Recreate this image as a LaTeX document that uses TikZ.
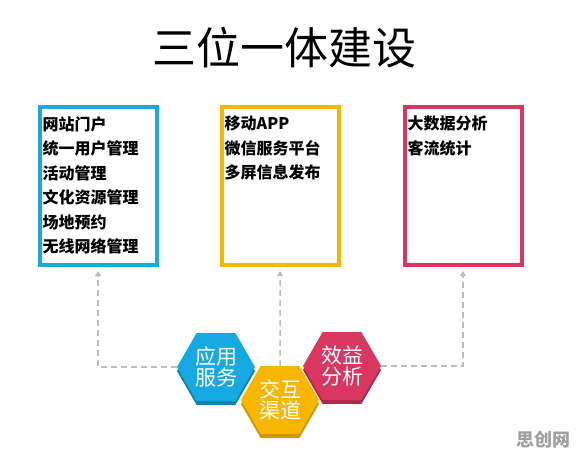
\documentclass[tikz,border=0pt]{standalone}
\usepackage{fontspec}
\setmainfont{Noto Sans CJK SC}
\usepackage{tikz}
\usetikzlibrary{shapes.geometric,arrows.meta}

\definecolor{skyblue}{HTML}{17A9E1}
\definecolor{skyshade}{HTML}{0E84B4}
\definecolor{amber}{HTML}{F8B600}
\definecolor{ambershade}{HTML}{D09700}
\definecolor{rosered}{HTML}{DA3760}
\definecolor{roseshade}{HTML}{AD2A4B}
\definecolor{linkgray}{HTML}{BDBDBD}

\tikzset{
	panel/.style={draw=#1, line width=4pt, minimum width=117pt, minimum height=158pt, inner sep=0pt},
	paneltext/.style={anchor=north west, inner sep=0pt, align=left, font=\fontsize{16}{24.5}\selectfont\bfseries},
	hexa/.style={regular polygon, regular polygon sides=6, minimum size=78pt, inner sep=0pt, fill=#1, text=white, align=center, font=\fontsize{21}{21}\selectfont},
	hexshade/.style={regular polygon, regular polygon sides=6, minimum size=78pt, inner sep=0pt, fill=#1},
	link/.style={draw=linkgray, line width=1.5pt, dash pattern=on 6pt off 4pt, -{Triangle[length=5pt,width=6pt]}, shorten >=4pt}
}

\begin{document}
\begin{tikzpicture}[x=1pt,y=-1pt]
	\useasboundingbox (0,0) rectangle (583,460);
	% Title
	\node (title) at (284,48) {\fontsize{44}{44}\selectfont 三位一体建设};
	% Panels
	\node[panel=skyblue] (portal) at (98,186) {};
	\node[panel=amber] (mobile) at (280,186) {};
	\node[panel=rosered] (data) at (463,186) {};
	\node[paneltext] (portallist) at ([xshift=5pt,yshift=-11pt]portal.north west)
		{网站门户\\统一用户管理\\活动管理\\文化资源管理\\场地预约\\无线网络管理};
	\node[paneltext] (mobilelist) at ([xshift=5pt,yshift=-11pt]mobile.north west)
		{移动APP\\微信服务平台\\多屏信息发布};
	\node[paneltext] (datalist) at ([xshift=5pt,yshift=-11pt]data.north west)
		{大数据分析\\客流统计};
	% Hexagons (shade first, then face)
	\node[hexshade=skyshade] at (216,371) {};
	\node[hexa=skyblue] (serve) at (216,367) {应用\\服务};
	\node[hexshade=ambershade] at (280,404) {};
	\node[hexa=amber] (channel) at (280,400) {交互\\渠道};
	\node[hexshade=roseshade] at (342,370) {};
	\node[hexa=rosered] (benefit) at (342,366) {效益\\分析};
	% Links
	\draw[link] (serve.west) -| (portal.south);
	\draw[link] (channel.north) -- (mobile.south);
	\draw[link] (benefit.east) -| (data.south);
	% Watermark
	\node[text=gray!75, font=\fontsize{18}{18}\selectfont\bfseries] (mark) at (543,440) {思创网};
\end{tikzpicture}
\end{document}
